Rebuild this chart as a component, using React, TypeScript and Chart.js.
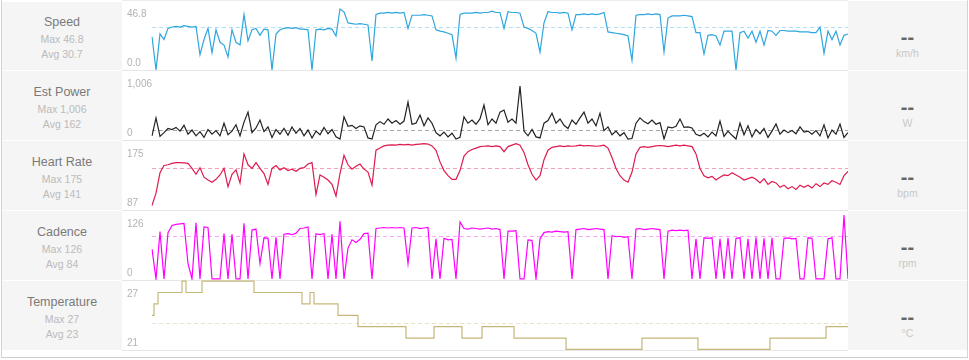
import React, { useEffect, useRef } from "react";
import { Chart, registerables } from "chart.js";

Chart.register(...registerables);

// ---- DATA (sampled evenly along the ride) ----
const speed = [
  24, 0, 26, 22, 30, 31, 31.5, 31, 32, 31.5, 31, 31.5, 11, 22, 30, 12.5, 29, 20, 18, 9.5,
  29, 20, 18, 40, 21, 29, 30, 25, 29.5, 29, 0, 26, 29, 30, 30.5, 30, 30.5, 29.5, 29.5, 29,
  0, 29, 29.5, 29, 30, 29.5, 24.5, 44, 42, 34, 33.5, 33, 33.5, 33, 32.5, 6.5, 40, 41, 41, 41.5,
  41, 41.5, 41, 41.5, 30, 39.5, 39.5, 39.5, 40, 39.5, 39, 29, 28, 27.5, 26.5, 25.5, 8.5, 40, 41, 41,
  41, 41.5, 41, 41.5, 41.5, 42.5, 41.5, 41.5, 30, 42, 41.5, 41.5, 41, 31, 30, 28.5, 26.5, 13, 34, 42,
  41.5, 41.5, 41, 41.5, 41, 29, 40, 40, 40.5, 40, 40.5, 40, 40.5, 41.5, 27.5, 27, 26.5, 26, 25.5, 24.5,
  7, 39.5, 40, 40, 40.5, 40, 40.5, 40, 13, 37.5, 39, 39, 39, 39.5, 39, 38.5, 27, 27, 11.5, 25,
  25.5, 24.5, 18, 28, 28, 28, 0, 27, 28, 23, 28, 20, 28, 18, 28.5, 28, 25, 28.5, 28.5, 28,
  28, 28, 27.5, 27.5, 27.5, 27, 27, 31, 12, 28, 22, 28, 18, 25, 26,
];

const power = [
  60, 400, 50, 120, 200, 180, 220, 150, 260, 90, 170, 60, 140, 30, 180, 90, 160, 60, 300, 80,
  150, 270, 60, 320, 510, 120, 210, 360, 140, 230, 30, 180, 90, 200, 70, 230, 110, 200, 60, 170,
  20, 150, 80, 220, 100, 180, 40, 0, 420, 240, 260, 200, 250, 230, 20, 0, 270, 330, 280, 380,
  300, 350, 280, 340, 700, 280, 300, 455, 250, 400, 300, 120, 60, 130, 40, 110, 0, 30, 420, 300,
  360, 280, 380, 645, 270, 380, 300, 510, 550, 320, 380, 300, 1006, 150, 60, 180, 40, 20, 300, 350,
  490, 300, 380, 260, 200, 360, 280, 400, 510, 300, 380, 250, 490, 160, 230, 80, 150, 60, 120, 0,
  10, 300, 400, 330, 290, 360, 280, 310, 0, 230, 210, 240, 380, 220, 230, 210, 90, 60, 110, 40,
  130, 60, 340, 50, 150, 70, 0, 300, 80, 250, 40, 180, 100, 200, 30, 150, 285, 90, 170, 120,
  160, 100, 230, 130, 150, 90, 160, 60, 270, 20, 170, 90, 285, 30, 120,
];

const heartRate = [
  89, 106, 134, 144, 145, 147, 148, 148, 147.5, 147, 140, 132, 141, 128, 124, 121, 125, 131, 140, 115,
  132, 138, 120, 160, 145, 140, 148, 140, 133, 118, 140, 144, 138, 141, 137, 139, 136, 140, 141, 146,
  148, 104, 131, 128, 124, 118, 102, 133, 158, 145, 139, 143, 146, 139, 135, 117, 165, 168, 171, 172,
  172.5, 172, 173, 172.5, 173, 172, 173, 173.5, 174, 173.5, 171, 165, 149, 137, 130, 125, 125, 137, 157, 163,
  166, 168, 170, 170.5, 171, 170, 171, 170, 163, 170, 172, 174, 172, 162, 145, 132, 124, 130, 152, 165,
  169, 170, 171, 170, 171, 170.5, 171, 172, 171, 171.5, 171, 170.5, 171, 172, 168, 155, 140, 130, 124, 121,
  135, 160, 169, 170, 169, 170, 171, 171.5, 171, 170, 171, 172, 171, 172, 171, 170, 160, 140, 130, 127,
  129, 124, 128, 131, 130, 134, 131, 128, 124, 126, 128, 125, 120, 126, 118, 122, 120, 114, 117, 112,
  115, 111, 117, 114, 117, 113, 119, 115, 120, 118, 123, 121, 118, 130, 136,
];

const cadence = [
  58, 0, 92, 0, 90, 104, 106, 107, 108, 30, 0, 109, 0, 101, 100, 0, 0, 0, 88, 0,
  87, 0, 0, 108, 0, 95, 97, 30, 80, 79, 0, 81, 0, 87, 88, 86, 89, 98, 99, 101,
  0, 88, 86, 88, 0, 87, 0, 112, 0, 60, 76, 71, 77, 88, 89, 0, 98, 99, 100, 99,
  100, 99, 100, 99, 30, 99, 100, 98, 99, 100, 0, 78, 0, 79, 76, 77, 0, 111, 98, 97,
  99, 98, 97, 98, 99, 97, 98, 96, 0, 93, 93, 94, 0, 0, 76, 75, 0, 78, 90, 92,
  91, 93, 92, 91, 92, 0, 96, 97, 98, 96, 97, 98, 97, 96, 0, 84, 82, 83, 81, 82,
  0, 97, 98, 96, 97, 98, 97, 96, 0, 93, 95, 94, 95, 94, 95, 0, 78, 0, 80, 79,
  80, 0, 78, 0, 80, 0, 79, 80, 0, 78, 0, 81, 0, 79, 0, 80, 0, 0, 79, 80,
  78, 79, 0, 0, 80, 79, 0, 0, 0, 78, 80, 0, 0, 124, 0,
];

const temperature = [
  24, 25, 26, 26, 26, 26, 26, 26, 27, 26, 26, 26, 26, 27, 27, 27, 27, 27, 27, 27,
  27, 27, 27, 27, 27, 27, 26, 26, 26, 26, 26, 26, 26, 26, 26, 26, 26, 26, 25, 25,
  26, 25, 25, 25, 25, 25, 25, 24, 24, 24, 24, 24, 23, 23, 23, 23, 23, 23, 23, 23,
  23, 23, 23, 23, 22, 22, 22, 22, 22, 22, 22, 23, 23, 23, 23, 23, 23, 23, 22, 22,
  22, 22, 22, 23, 23, 23, 23, 23, 23, 23, 23, 22, 22, 22, 22, 22, 22, 22, 22, 22,
  22, 22, 22, 22, 21, 21, 21, 21, 21, 21, 21, 21, 21, 21, 21, 21, 21, 21, 21, 21,
  21, 21, 21, 22, 22, 22, 22, 22, 22, 22, 22, 22, 22, 22, 22, 22, 22, 21, 21, 21,
  21, 21, 21, 21, 21, 21, 21, 21, 21, 21, 21, 21, 21, 21, 21, 22, 22, 22, 22, 22,
  22, 22, 22, 22, 22, 22, 22, 22, 22, 23, 23, 23, 23, 23, 23,
];

const metricNames = ["Speed", "Est Power", "Heart Rate", "Cadence", "Temperature"];
const maxLabels = ["46.8", "1,006", "175", "126", "27"];
const avgValues = [30.7, 162, 141, 84, 23.3];
const avgLabels = ["30.7", "162", "141", "84", "23"];
const axisTopLabels = ["46.8", "1,006", "175", "126", "27"];
const axisBottomLabels = ["0.0", "0", "87", "0", "21"];
const units = ["km/h", "W", "bpm", "rpm", "°C"];
const seriesList = [speed, power, heartRate, cadence, temperature];

// ---- STYLE ----
const FONT = '"Helvetica Neue", Helvetica, Arial, "Liberation Sans", sans-serif';
const panelStyles = [
  { color: "#2ea6de", avgColor: "#b0def4", yMin: 0, yMax: 50.5, stepped: false },
  { color: "#222222", avgColor: "#a8a8a8", yMin: -19, yMax: 1310, stepped: false },
  { color: "#de1a4e", avgColor: "#f3a3b8", yMin: 82.8, yMax: 179.1, stepped: false },
  { color: "#ff00ff", avgColor: "#f6a8f6", yMin: -2, yMax: 134, stepped: false },
  { color: "#c5b878", avgColor: "#eee5c6", yMin: 20.95, yMax: 27.1, stepped: "middle" },
];

const ROW_H = 70;
const CANVAS_W = 726;

function Panel({ index }: { index: number }) {
  const ref = useRef<HTMLCanvasElement | null>(null);
  useEffect(() => {
    const canvas = ref.current;
    if (!canvas) return;
    const st = panelStyles[index];
    const data = seriesList[index];
    const labels = data.map((_, i) => i);
    const overlay = {
      id: "overlay" + index,
      beforeDatasetsDraw(chart: any) {
        const { ctx, chartArea, scales } = chart;
        const y = Math.round(scales.y.getPixelForValue(avgValues[index])) + 0.5;
        ctx.save();
        ctx.strokeStyle = st.avgColor;
        ctx.lineWidth = 1;
        ctx.setLineDash([4, 3]);
        ctx.beginPath();
        ctx.moveTo(chartArea.left, y);
        ctx.lineTo(chartArea.right, y);
        ctx.stroke();
        ctx.restore();
      },
      afterDraw(chart: any) {
        const { ctx, chartArea } = chart;
        ctx.save();
        ctx.font = "10px " + FONT;
        ctx.fillStyle = "#b3b3b3";
        ctx.textAlign = "left";
        ctx.textBaseline = "middle";
        ctx.fillText(axisTopLabels[index], 5, chartArea.top + 14);
        ctx.fillText(axisBottomLabels[index], 5, chartArea.bottom - 6.5);
        ctx.restore();
      },
    };
    const chart = new Chart(canvas, {
      type: "line",
      data: {
        labels,
        datasets: [
          {
            data,
            borderColor: st.color,
            borderWidth: 1.2,
            pointRadius: 0,
            tension: 0,
            fill: false,
            stepped: st.stepped as any,
          },
        ],
      },
      options: {
        responsive: false,
        animation: false,
        devicePixelRatio: 1,
        layout: { padding: { left: 30, right: 0, top: 0, bottom: 0 } },
        plugins: { legend: { display: false }, tooltip: { enabled: false } },
        scales: {
          x: { type: "category", display: false, offset: false },
          y: { display: false, min: st.yMin, max: st.yMax },
        },
      },
      plugins: [overlay],
    });
    return () => chart.destroy();
  }, [index]);

  const top = index * ROW_H;
  return (
    <>
      <div
        style={{
          position: "absolute",
          left: 2,
          top: top + (index === 0 ? 2 : 1),
          width: 120,
          height: index === 0 ? 68 : 69,
          background: "#f5f5f5",
        }}
      >
        <div style={{ position: "absolute", left: 0, width: 120, top: 13 - (index === 0 ? 1 : 0), lineHeight: "16px", fontSize: 12.5, color: "#7a7a7a", textAlign: "center" }}>
          {metricNames[index]}
        </div>
        <div style={{ position: "absolute", left: 0, width: 120, top: 31 - (index === 0 ? 1 : 0), lineHeight: "14px", fontSize: 10.5, color: "#bbbbbb", textAlign: "center" }}>
          {"Max " + maxLabels[index]}
        </div>
        <div style={{ position: "absolute", left: 0, width: 120, top: 45.5 - (index === 0 ? 1 : 0), lineHeight: "14px", fontSize: 10.5, color: "#bbbbbb", textAlign: "center" }}>
          {"Avg " + avgLabels[index]}
        </div>
      </div>
      <canvas
        ref={ref}
        width={CANVAS_W}
        height={ROW_H}
        style={{ position: "absolute", left: 122, top, width: CANVAS_W, height: ROW_H }}
      />
      <div style={{ position: "absolute", left: 122, top: top + ROW_H, width: CANVAS_W, height: 1, background: "#e6e6e6" }} />
      <div
        style={{
          position: "absolute",
          left: 848,
          top: top + 1,
          width: 119,
          height: 69,
          background: "#f5f5f5",
        }}
      >
        <div style={{ position: "absolute", left: 0, width: 119, top: 25.5, lineHeight: "20px", fontSize: 20, fontWeight: "bold", color: "#666", textAlign: "center" }}>
          --
        </div>
        <div style={{ position: "absolute", left: 0, width: 119, top: 45, lineHeight: "14px", fontSize: 10.5, color: "#c8c8c8", textAlign: "center" }}>
          {units[index]}
        </div>
      </div>
    </>
  );
}

export default function App() {
  return (
    <div
      style={{
        position: "fixed",
        left: 0,
        top: 0,
        width: 969,
        height: 360,
        background: "#ffffff",
        fontFamily: FONT,
        overflow: "hidden",
      }}
    >
      <div style={{ position: "absolute", left: 122, top: 0, width: 726, height: 1, background: "#ececec" }} />
      {metricNames.map((_, i) => (
        <Panel key={i} index={i} />
      ))}
      <div style={{ position: "absolute", left: 1, top: 0, width: 1, height: 358, background: "#d4d4d4" }} />
      <div style={{ position: "absolute", left: 967, top: 0, width: 1, height: 358, background: "#d4d4d4" }} />
      <div style={{ position: "absolute", left: 1, top: 357, width: 967, height: 1, background: "#cfcfcf" }} />
    </div>
  );
}
